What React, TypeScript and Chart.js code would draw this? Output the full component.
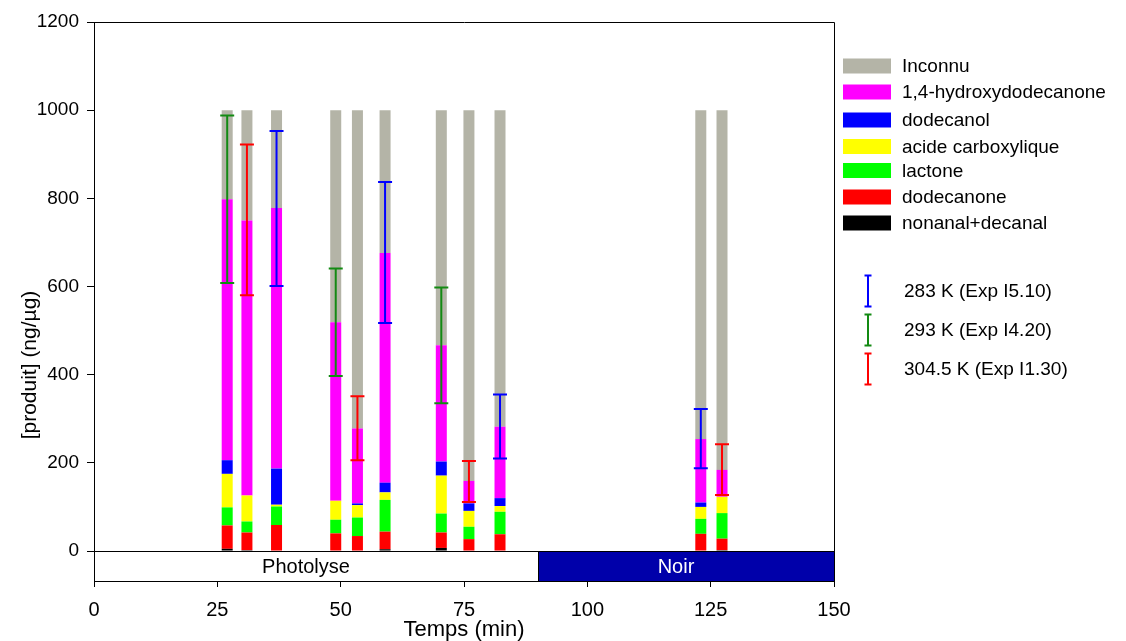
import React, { useEffect, useRef } from 'react';
import { Chart, registerables } from 'chart.js';

Chart.register(...registerables);

const FONT = 'Liberation Sans, Arial, sans-serif';

// Sampling times (min)
const times = [27, 31, 37, 49, 53.4, 59, 70.4, 76, 82.3, 123, 127.3];

// Stacked components (ng/µg), bottom to top
const nonanalDecanal = [5, 2, 0, 0, 0, 4, 7, 0, 0, 0, 2];
const dodecanone = [53, 40, 59, 40, 34, 40, 35, 27, 38, 39, 26];
const lactone = [41, 25, 42, 31, 42, 72, 43, 28, 51, 34, 58];
const acideCarboxylique = [76, 59, 4, 43, 28, 17, 86, 36, 13, 27, 37];
const dodecanol = [31, 0, 82, 0, 4, 22, 32, 17, 18, 10, 0];
const hydroxydodecanone = [592, 624, 591, 405, 170, 521, 264, 51, 162, 144, 61];
const inconnu = [202, 250, 222, 481, 722, 324, 533, 841, 718, 746, 816];

// Error bars (low / high) and which experiment they belong to
const errLow = [608, 580, 601, 397, 206, 517, 335, 111, 210, 188, 127];
const errHigh = [988, 922, 953, 641, 351, 837, 598, 204, 355, 322, 242];
const errSeries = [1, 2, 0, 1, 2, 0, 1, 2, 0, 0, 2];

const expLabels = ['283 K (Exp I5.10)', '293 K (Exp I4.20)', '304.5 K (Exp I1.30)'];
const expColors = ['#0000ff', '#138a13', '#ff0000'];

const seriesNames = [
  'nonanal+decanal',
  'dodecanone',
  'lactone',
  'acide carboxylique',
  'dodecanol',
  '1,4-hydroxydodecanone',
  'Inconnu',
];
const seriesData = [nonanalDecanal, dodecanone, lactone, acideCarboxylique, dodecanol, hydroxydodecanone, inconnu];
const seriesColors = ['#000000', '#ff0000', '#00ff00', '#ffff00', '#0000ff', '#ff00ff', '#b4b4a7'];

// Bottom phase band
const bandStart = [0, 90];
const bandEnd = [90, 150];
const bandLabels = ['Photolyse', 'Noir'];
const bandFill = ['#ffffff', '#0000aa'];
const bandText = ['#000000', '#ffffff'];

const xTicks = [0, 25, 50, 75, 100, 125, 150];
const yTicks = [0, 200, 400, 600, 800, 1000, 1200];

const overlayPlugin = {
  id: 'overlay',
  afterDatasetsDraw(chart: any) {
    const { ctx, chartArea, scales } = chart;
    const xs = scales.x;
    const ys = scales.y;
    ctx.save();
    // error bars
    ctx.lineWidth = 2;
    times.forEach((t, i) => {
      const px = xs.getPixelForValue(t);
      const y1 = ys.getPixelForValue(errLow[i]);
      const y2 = ys.getPixelForValue(errHigh[i]);
      ctx.strokeStyle = expColors[errSeries[i]];
      ctx.beginPath();
      ctx.moveTo(px, y1);
      ctx.lineTo(px, y2);
      ctx.moveTo(px - 7, y1);
      ctx.lineTo(px + 7, y1);
      ctx.moveTo(px - 7, y2);
      ctx.lineTo(px + 7, y2);
      ctx.stroke();
    });
    // band
    const yTop = ys.getPixelForValue(0);
    const yBot = chartArea.bottom;
    bandStart.forEach((s, i) => {
      const x1 = xs.getPixelForValue(s);
      const x2 = xs.getPixelForValue(bandEnd[i]);
      ctx.fillStyle = bandFill[i];
      ctx.fillRect(x1, yTop, x2 - x1, yBot - yTop);
      ctx.strokeStyle = '#000';
      ctx.lineWidth = 1;
      ctx.strokeRect(Math.round(x1) + 0.5, Math.round(yTop) + 0.5, x2 - x1, Math.round(yBot - yTop));
      ctx.fillStyle = bandText[i];
      ctx.font = `20px ${FONT}`;
      ctx.textAlign = 'center';
      ctx.textBaseline = 'middle';
      ctx.fillText(bandLabels[i], (x1 + x2) / 2 - 10, (yTop + yBot) / 2 + 1);
    });
    // frame: top and right
    ctx.strokeStyle = '#000';
    ctx.lineWidth = 1;
    ctx.beginPath();
    ctx.moveTo(Math.round(chartArea.left) + 0.5, Math.round(chartArea.top) + 0.5);
    ctx.lineTo(Math.round(chartArea.right) + 0.5, Math.round(chartArea.top) + 0.5);
    ctx.lineTo(Math.round(chartArea.right) + 0.5, Math.round(chartArea.bottom) + 0.5);
    ctx.stroke();
    ctx.restore();
  },
  afterDraw(chart: any) {
    const { ctx } = chart;
    ctx.save();
    // y title
    ctx.translate(30, 365);
    ctx.rotate(-Math.PI / 2);
    ctx.font = `21px ${FONT}`;
    ctx.fillStyle = '#000';
    ctx.textAlign = 'center';
    ctx.textBaseline = 'middle';
    ctx.fillText('[produit] (ng/µg)', 0, 0);
    ctx.restore();

    // legend for stacked series (top item first)
    ctx.save();
    ctx.font = `19px ${FONT}`;
    ctx.textAlign = 'left';
    ctx.textBaseline = 'middle';
    const rowY = [66, 92, 120, 146.5, 170.5, 197, 223];
    for (let k = 0; k < seriesNames.length; k++) {
      const idx = seriesNames.length - 1 - k;
      const cy = rowY[k];
      ctx.fillStyle = seriesColors[idx];
      ctx.fillRect(843, cy - 7.5, 48, 15);
      ctx.fillStyle = '#000';
      ctx.fillText(seriesNames[idx], 902, cy + 1);
    }
    // legend for error bars
    const eRow = [291, 330, 369];
    expLabels.forEach((lab, i) => {
      const cy = eRow[i];
      ctx.strokeStyle = expColors[i];
      ctx.lineWidth = 2;
      ctx.beginPath();
      ctx.moveTo(868, cy - 15.5);
      ctx.lineTo(868, cy + 15.5);
      ctx.moveTo(864.5, cy - 15.5);
      ctx.lineTo(871.5, cy - 15.5);
      ctx.moveTo(864.5, cy + 15.5);
      ctx.lineTo(871.5, cy + 15.5);
      ctx.stroke();
      ctx.fillStyle = '#000';
      ctx.fillText(lab, 904, cy + 1);
    });
    ctx.restore();
  },
};

export default function App() {
  const ref = useRef<HTMLCanvasElement | null>(null);
  useEffect(() => {
    if (!ref.current) return;
    const datasets = seriesData.map((arr, si) => ({
      label: seriesNames[si],
      data: times.map((t, i) => ({ x: t, y: arr[i] })),
      backgroundColor: seriesColors[si],
      borderWidth: 0,
      grouped: false,
      maxBarThickness: 11,
      barPercentage: 0.9,
      categoryPercentage: 0.8,
    }));
    const chart = new Chart(ref.current, {
      type: 'bar',
      data: { datasets } as any,
      options: {
        animation: false,
        responsive: false,
        maintainAspectRatio: false,
        devicePixelRatio: 1,
        layout: { padding: { top: 22, right: 292, left: 0, bottom: 0 } },
        plugins: { legend: { display: false }, tooltip: { enabled: false } },
        scales: {
          x: {
            type: 'linear',
            min: 0,
            max: 150,
            offset: false,
            afterBuildTicks: (s: any) => {
              s.ticks = xTicks.map((v) => ({ value: v }));
            },
            ticks: {
              color: '#000',
              font: { family: FONT, size: 20 },
              padding: 11,
              maxRotation: 0,
              autoSkip: false,
              callback: (v: any) => String(v),
            },
            grid: { display: true, offset: false, drawOnChartArea: false, drawTicks: true, tickLength: 6, color: '#000' },
            border: { display: true, color: '#000', width: 1 },
            title: { display: true, text: 'Temps (min)', color: '#000', font: { family: FONT, size: 22, lineHeight: 1 }, padding: 0 },
            afterFit: (s: any) => {
              s.height = 60;
            },
          },
          y: {
            type: 'linear',
            stacked: true,
            min: -68,
            max: 1200,
            afterBuildTicks: (s: any) => {
              s.ticks = yTicks.map((v) => ({ value: v }));
            },
            ticks: {
              color: '#000',
              font: { family: FONT, size: 19 },
              padding: 8,
              autoSkip: false,
              callback: (v: any) => String(v),
            },
            grid: { display: true, drawOnChartArea: false, drawTicks: true, tickLength: 7, color: '#000' },
            border: { display: true, color: '#000', width: 1 },
            afterFit: (s: any) => {
              s.width = 94;
            },
          },
        },
      } as any,
      plugins: [overlayPlugin],
    });
    return () => chart.destroy();
  }, []);
  return (
    <div style={{ position: 'absolute', left: 0, top: 0, width: 1126, height: 641, background: '#fff' }}>
      <canvas ref={ref} width={1126} height={641} style={{ width: 1126, height: 641, display: 'block' }} />
    </div>
  );
}
